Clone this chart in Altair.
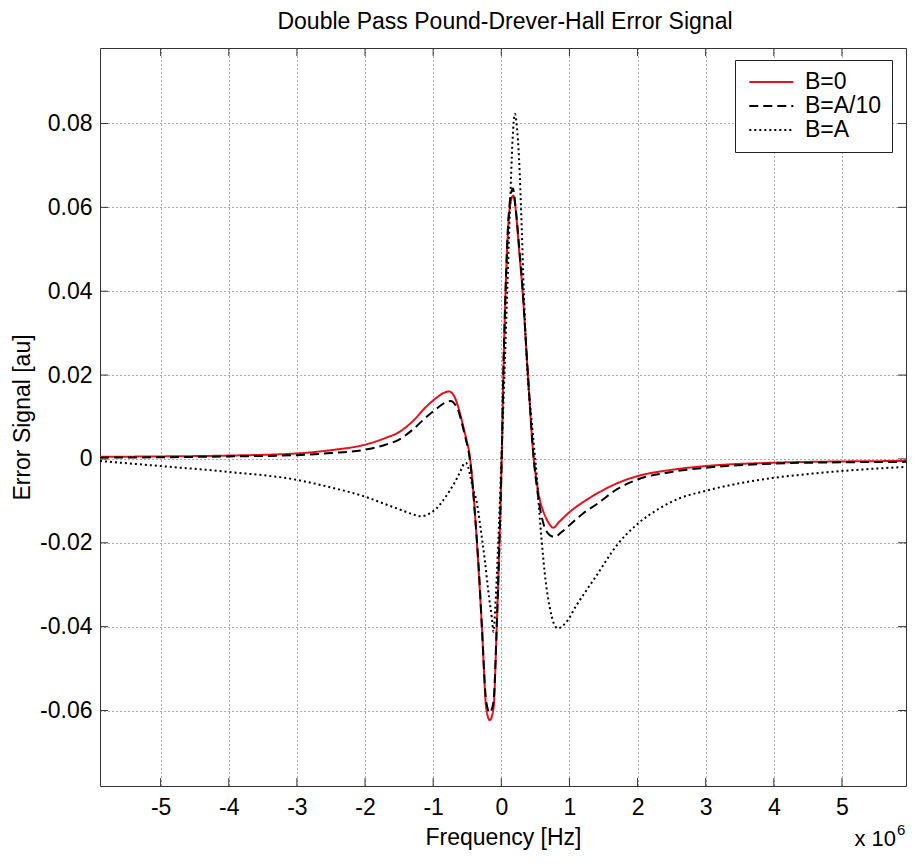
import altair as alt
import pandas as pd

# ---- data (frequency in units of 1e6 Hz) ----
freq_b0 = [-5.89, -5.0, -4.0, -3.0, -2.5, -2.0, -1.7, -1.5, -1.3, -1.1, -0.95, -0.85, -0.77, -0.7,
           -0.64, -0.6, -0.55, -0.5, -0.47, -0.44, -0.41, -0.38, -0.35, -0.32, -0.285, -0.22, -0.17,
           -0.115, -0.067, -0.028, 0.006, 0.03, 0.064, 0.1, 0.14, 0.176, 0.22, 0.26, 0.31, 0.39,
           0.476, 0.52, 0.563, 0.61, 0.66, 0.71, 0.76, 0.85, 1.0, 1.2, 1.4, 1.7, 2.0, 2.5, 3.0,
           4.0, 5.0, 5.94]
sig_b0 = [0.0005, 0.0006, 0.0008, 0.0013, 0.0021, 0.0034, 0.0050, 0.0064, 0.0090, 0.0125, 0.0146,
          0.0157, 0.0161, 0.0152, 0.0128, 0.0105, 0.0072, 0.0038, 0.0015, -0.0025, -0.008, -0.0145,
          -0.022, -0.030, -0.040, -0.0596, -0.0623, -0.0596, -0.040, -0.0204, 0.0, 0.0202, 0.0405,
          0.055, 0.0615, 0.0628, 0.058, 0.050, 0.0405, 0.0202, 0.0, -0.0055, -0.0095, -0.0122,
          -0.0142, -0.0156, -0.0164, -0.0150, -0.0127, -0.0103, -0.0083, -0.0058, -0.0041, -0.0026,
          -0.0017, -0.0009, -0.0006, -0.0005]

freq_b10 = [-5.89, -5.0, -4.0, -3.0, -2.5, -2.0, -1.7, -1.5, -1.3, -1.1, -0.95, -0.85, -0.74, -0.68,
            -0.62, -0.57, -0.52, -0.48, -0.45, -0.42, -0.39, -0.36, -0.32, -0.285, -0.22, -0.17,
            -0.115, -0.067, -0.028, 0.006, 0.03, 0.064, 0.1, 0.14, 0.17, 0.21, 0.26, 0.31, 0.39,
            0.476, 0.52, 0.56, 0.62, 0.7, 0.78, 0.88, 1.0, 1.2, 1.4, 1.7, 2.0, 2.5, 3.0, 4.0, 5.0,
            5.94]
sig_b10 = [0.0003, 0.0004, 0.0006, 0.0009, 0.0014, 0.0022, 0.0034, 0.0046, 0.0070, 0.0100, 0.0120,
           0.0132, 0.0138, 0.0130, 0.0110, 0.0080, 0.0046, 0.0018, -0.0015, -0.0065, -0.0125,
           -0.019, -0.029, -0.040, -0.058, -0.0605, -0.058, -0.040, -0.0204, 0.0, 0.0205, 0.041,
           0.056, 0.063, 0.0645, 0.060, 0.051, 0.041, 0.0205, 0.0, -0.0065, -0.011, -0.0155,
           -0.018, -0.0186, -0.0175, -0.0158, -0.013, -0.0108, -0.0072, -0.0049, -0.0031, -0.0021,
           -0.0011, -0.0008, -0.0007]

freq_ba = [-5.89, -5.0, -4.0, -3.0, -2.5, -2.0, -1.7, -1.5, -1.3, -1.18, -1.05, -0.95, -0.85, -0.75,
           -0.65, -0.58, -0.55, -0.52, -0.49, -0.45, -0.42, -0.36, -0.3, -0.24, -0.18, -0.14,
           -0.115, -0.09, -0.067, -0.04, -0.009, 0.02, 0.05, 0.088, 0.128, 0.165, 0.2, 0.23, 0.26,
           0.3, 0.33, 0.39, 0.44, 0.48, 0.515, 0.55, 0.59, 0.65, 0.71, 0.77, 0.83, 0.95, 1.1, 1.39,
           1.7, 2.0, 2.3, 2.6, 3.0, 3.5, 4.0, 4.5, 4.98, 5.5, 5.94]
sig_ba = [-0.0005, -0.0017, -0.0031, -0.0050, -0.0068, -0.0090, -0.0108, -0.0120, -0.0132, -0.0137,
          -0.0130, -0.0118, -0.0098, -0.0074, -0.0046, -0.0022, -0.0012, -0.0009, -0.0018, -0.0045,
          -0.0068, -0.0103, -0.017, -0.0244, -0.033, -0.0377, -0.0412, -0.036, -0.0283, -0.018,
          -0.0048, 0.008, 0.022, 0.0405, 0.060, 0.076, 0.0823, 0.079, 0.0717, 0.055, 0.040, 0.019,
          0.010, 0.003, -0.003, -0.011, -0.019, -0.029, -0.0353, -0.0392, -0.0404, -0.039, -0.035,
          -0.028, -0.0205, -0.0155, -0.0120, -0.0095, -0.0076, -0.0058, -0.0045, -0.0036, -0.0029,
          -0.0023, -0.0019]

series_names = ["B=0", "B=A/10", "B=A"]
series_colors = ["#e8101a", "#000000", "#000000"]
series_dash = [[1, 0], [9, 5], [2, 3]]
x_ticks = [-5, -4, -3, -2, -1, 0, 1, 2, 3, 4, 5]
y_ticks = [-0.06, -0.04, -0.02, 0.0, 0.02, 0.04, 0.06, 0.08]
x_domain = [-5.89, 5.94]
y_domain = [-0.078, 0.098]
title_text = "Double Pass Pound-Drever-Hall Error Signal"

FONT = "Liberation Sans, Arial, Helvetica, sans-serif"
W, H = 806, 738

rows = []
for name, fx, sy in [(series_names[0], freq_b0, sig_b0),
                     (series_names[1], freq_b10, sig_b10),
                     (series_names[2], freq_ba, sig_ba)]:
    for i, (a, b) in enumerate(zip(fx, sy)):
        rows.append({"f": a, "s": b, "series": name, "i": i})
df = pd.DataFrame(rows)

legend = alt.Legend(
    title=None, orient="none", legendX=635, legendY=12,
    symbolType="M-0.7,0H3.3", symbolSize=484, symbolStrokeWidth=2,
    labelFontSize=23, labelFont=FONT, labelColor="black",
    fillColor="white", strokeColor="#222", padding=10, rowPadding=0,
    labelOffset=36,
)

xs = alt.Scale(domain=x_domain, nice=False, zero=False)
ys = alt.Scale(domain=y_domain, nice=False, zero=False)

lines = alt.Chart(df).mark_line(strokeWidth=2, interpolate="monotone").encode(
    x=alt.X("f:Q", scale=xs, axis=alt.Axis(
        values=x_ticks, title="Frequency [Hz]", grid=True, ticks=False, domain=False,
        labelPadding=10, labelExpr="datum.value < 0 ? '-' + abs(datum.value) : '' + datum.value",
        titleY=51, titleBaseline="middle")),
    y=alt.Y("s:Q", scale=ys, axis=alt.Axis(
        values=y_ticks, title="Error Signal [au]", grid=True, ticks=False, domain=False,
        labelPadding=8,
        labelExpr="datum.value == 0 ? '0' : (datum.value < 0 ? '-' : '') + format(abs(datum.value), '.2f')",
        titleX=-78, titleY=H / 2, titleBaseline="middle")),
    color=alt.Color("series:N", scale=alt.Scale(domain=series_names, range=series_colors), legend=legend),
    strokeDash=alt.StrokeDash("series:N", scale=alt.Scale(domain=series_names, range=series_dash), legend=legend),
    order="i:Q",
)

xt = pd.DataFrame({"f": x_ticks})
yt = pd.DataFrame({"s": y_ticks})
tick_color = "#333333"
ticks_bottom = alt.Chart(xt).mark_rule(color=tick_color).encode(x="f:Q", y=alt.value(H), y2=alt.value(H - 8))
ticks_top = alt.Chart(xt).mark_rule(color=tick_color).encode(x="f:Q", y=alt.value(0), y2=alt.value(8))
ticks_left = alt.Chart(yt).mark_rule(color=tick_color).encode(y="s:Q", x=alt.value(0), x2=alt.value(8))
ticks_right = alt.Chart(yt).mark_rule(color=tick_color).encode(y="s:Q", x=alt.value(W - 8), x2=alt.value(W))

title_mark = alt.Chart(pd.DataFrame({"t": [title_text]})).mark_text(
    fontSize=23, font=FONT, color="black", align="center", baseline="alphabetic"
).encode(text="t:N", x=alt.value(W / 2 + 2), y=alt.value(-19))
exp_base = alt.Chart(pd.DataFrame({"t": ["x 10"]})).mark_text(
    fontSize=22, font=FONT, color="black", align="right", baseline="alphabetic"
).encode(text="t:N", x=alt.value(W - 10), y=alt.value(H + 60))
exp_pow = alt.Chart(pd.DataFrame({"t": ["6"]})).mark_text(
    fontSize=15, font=FONT, color="black", align="left", baseline="alphabetic"
).encode(text="t:N", x=alt.value(W - 9), y=alt.value(H + 49))

chart = alt.layer(lines, ticks_bottom, ticks_top, ticks_left, ticks_right,
                  title_mark, exp_base, exp_pow).properties(
    width=W, height=H,
    padding={"left": 92, "top": 40, "right": 1, "bottom": 66},
    autosize=alt.AutoSizeParams(type="none"),
).configure_view(stroke="#333333", strokeWidth=1).configure_axis(
    gridColor="#555555", gridDash=[1, 3], gridWidth=1, gridOpacity=1,
    labelFont=FONT, labelFontSize=23, labelColor="black",
    titleFont=FONT, titleFontSize=23, titleFontWeight="normal", titleColor="black",
).configure_legend(labelFont=FONT)

chart.save("out.html", embed_options={"renderer": "svg", "actions": False})
